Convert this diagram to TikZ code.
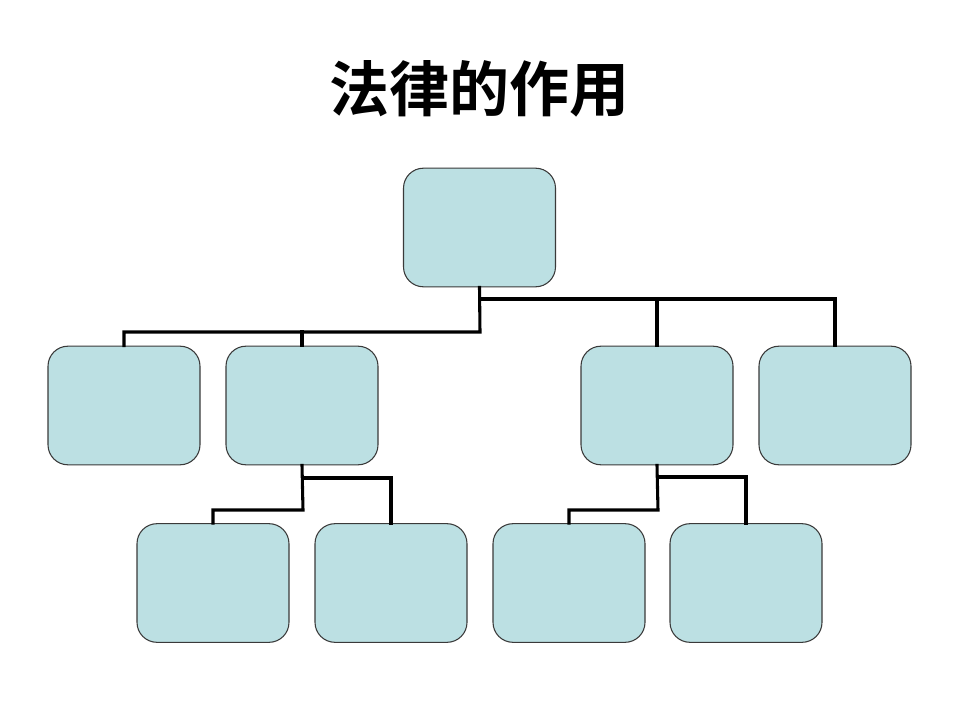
\documentclass[tikz,border=0pt]{standalone}
\usepackage{fontspec}
\newfontfamily\cjk{Noto Sans CJK SC Bold}
\definecolor{boxfill}{HTML}{BCE0E3}
\definecolor{boxline}{HTML}{3A3A3A}
\begin{document}
\begin{tikzpicture}[x=0.75pt,y=-0.75pt,
  orgbox/.style={draw=boxline,line width=0.8pt,fill=boxfill,rounded corners=15pt,minimum width=114pt,minimum height=89pt,inner sep=0pt},
  conn/.style={line width=2.3pt,line cap=rect}]
\useasboundingbox (0,0) rectangle (960,720);
\node[font=\cjk\fontsize{45pt}{52pt}\selectfont] (title) at (479,89) {法律的作用};
\node[orgbox] (top) at (479.5,227.5) {};
\node[orgbox] (a) at (124,405.5) {};
\node[orgbox] (b) at (302,405.5) {};
\node[orgbox] (c) at (657,405.5) {};
\node[orgbox] (d) at (835,405.5) {};
\node[orgbox] (b1) at (213,583) {};
\node[orgbox] (b2) at (391,583) {};
\node[orgbox] (c1) at (569,583) {};
\node[orgbox] (c2) at (746,583) {};
\coordinate (t1) at (480,299);
\coordinate (t2) at (480,332);
\coordinate (bj1) at (303,478);
\coordinate (bj2) at (303,510);
\coordinate (cj1) at (658,477);
\coordinate (cj2) at (658,510);
\draw[conn] (top.south) -- (t2) -| (a.north);
\draw[conn] (t2 -| b.north) -- (b.north);
\draw[conn] (t1) -| (d.north);
\draw[conn] (t1 -| c.north) -- (c.north);
\draw[conn] (b.south) -- (bj2) -| (b1.north);
\draw[conn] (bj1) -| (b2.north);
\draw[conn] (c.south) -- (cj2) -| (c1.north);
\draw[conn] (cj1) -| (c2.north);
\end{tikzpicture}
\end{document}
